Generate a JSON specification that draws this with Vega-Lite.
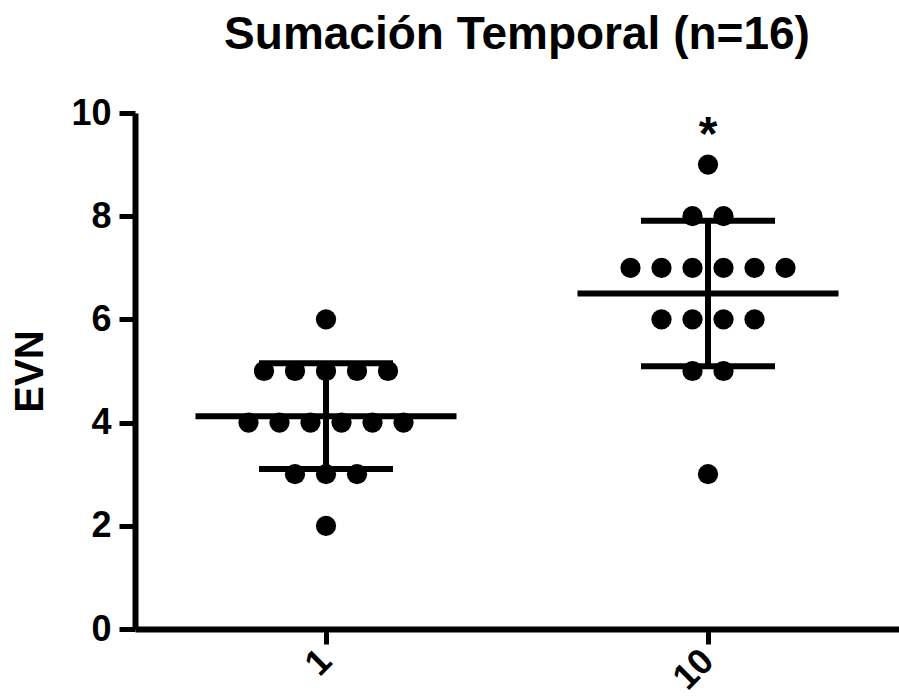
{
  "$schema": "https://vega.github.io/schema/vega-lite/v6.json",
  "autosize": {"type": "none"},
  "padding": {"left": 135, "top": 113, "right": 0, "bottom": 70},
  "width": 764,
  "height": 516,
  "background": "white",
  "title": {
    "text": "Sumación Temporal (n=16)",
    "font": "Liberation Sans",
    "fontSize": 46,
    "fontWeight": "bold",
    "color": "black",
    "anchor": "middle",
    "offset": 36
  },
  "datasets": {
    "points": [
      {"group": "1", "value": 6, "slot": 0},
      {"group": "1", "value": 5, "slot": -2},
      {"group": "1", "value": 5, "slot": -1},
      {"group": "1", "value": 5, "slot": 0},
      {"group": "1", "value": 5, "slot": 1},
      {"group": "1", "value": 5, "slot": 2},
      {"group": "1", "value": 4, "slot": -2.5},
      {"group": "1", "value": 4, "slot": -1.5},
      {"group": "1", "value": 4, "slot": -0.5},
      {"group": "1", "value": 4, "slot": 0.5},
      {"group": "1", "value": 4, "slot": 1.5},
      {"group": "1", "value": 4, "slot": 2.5},
      {"group": "1", "value": 3, "slot": -1},
      {"group": "1", "value": 3, "slot": 0},
      {"group": "1", "value": 3, "slot": 1},
      {"group": "1", "value": 2, "slot": 0},
      {"group": "10", "value": 9, "slot": 0},
      {"group": "10", "value": 8, "slot": -0.5},
      {"group": "10", "value": 8, "slot": 0.5},
      {"group": "10", "value": 7, "slot": -2.5},
      {"group": "10", "value": 7, "slot": -1.5},
      {"group": "10", "value": 7, "slot": -0.5},
      {"group": "10", "value": 7, "slot": 0.5},
      {"group": "10", "value": 7, "slot": 1.5},
      {"group": "10", "value": 7, "slot": 2.5},
      {"group": "10", "value": 6, "slot": -1.5},
      {"group": "10", "value": 6, "slot": -0.5},
      {"group": "10", "value": 6, "slot": 0.5},
      {"group": "10", "value": 6, "slot": 1.5},
      {"group": "10", "value": 5, "slot": -0.5},
      {"group": "10", "value": 5, "slot": 0.5},
      {"group": "10", "value": 3, "slot": 0}
    ],
    "summary": [
      {"group": "1", "mean": 4.125, "lo": 3.10, "hi": 5.15},
      {"group": "10", "mean": 6.5, "lo": 5.09, "hi": 7.91}
    ],
    "annot": [
      {"group": "10", "value": 9.55, "label": "*"}
    ]
  },
  "encoding": {
    "x": {
      "field": "group",
      "type": "nominal",
      "sort": ["1", "10"],
      "scale": {"paddingInner": 0, "paddingOuter": 0},
      "axis": {
        "title": null,
        "labelAngle": -45,
        "labelAlign": "right",
        "labelBaseline": "middle",
        "labelFont": "Liberation Sans",
        "labelFontSize": 36,
        "labelFontWeight": "bold",
        "labelColor": "black",
        "labelPadding": 11,
        "domainColor": "black",
        "domainWidth": 6,
        "tickColor": "black",
        "tickWidth": 5,
        "tickSize": 15,
        "grid": false
      }
    }
  },
  "layer": [
    {
      "data": {"name": "summary"},
      "mark": {"type": "rule", "color": "black", "strokeWidth": 6},
      "encoding": {
        "y": {
          "field": "lo",
          "type": "quantitative",
          "scale": {"domain": [0, 10], "nice": false},
          "axis": {
            "title": "EVN",
            "titleFont": "Liberation Sans",
            "titleFontSize": 40,
            "titleFontWeight": "bold",
            "titleColor": "black",
            "titlePadding": 20,
            "values": [0, 2, 4, 6, 8, 10],
            "labelFont": "Liberation Sans",
            "labelFontSize": 36,
            "labelFontWeight": "bold",
            "labelColor": "black",
            "labelPadding": 8,
            "domainColor": "black",
            "domainWidth": 6,
            "tickColor": "black",
            "tickWidth": 5,
            "tickSize": 16,
            "grid": false
          }
        },
        "y2": {"field": "hi"}
      }
    },
    {
      "data": {"name": "summary"},
      "mark": {"type": "tick", "color": "black", "size": 261, "thickness": 6, "opacity": 1},
      "encoding": {"y": {"field": "mean", "type": "quantitative"}}
    },
    {
      "data": {"name": "summary"},
      "mark": {"type": "tick", "color": "black", "size": 134, "thickness": 6, "opacity": 1},
      "encoding": {"y": {"field": "lo", "type": "quantitative"}}
    },
    {
      "data": {"name": "summary"},
      "mark": {"type": "tick", "color": "black", "size": 134, "thickness": 6, "opacity": 1},
      "encoding": {"y": {"field": "hi", "type": "quantitative"}}
    },
    {
      "data": {"name": "points"},
      "mark": {"type": "circle", "color": "black", "size": 410, "opacity": 1},
      "encoding": {
        "y": {"field": "value", "type": "quantitative"},
        "xOffset": {"field": "slot", "type": "quantitative", "scale": {"domain": [-6.16, 6.16]}}
      }
    },
    {
      "data": {"name": "annot"},
      "mark": {"type": "text", "font": "Liberation Sans", "fontSize": 48, "fontWeight": "bold", "color": "black", "baseline": "middle"},
      "encoding": {
        "y": {"field": "value", "type": "quantitative"},
        "text": {"field": "label"}
      }
    }
  ],
  "config": {"view": {"stroke": null}}
}
